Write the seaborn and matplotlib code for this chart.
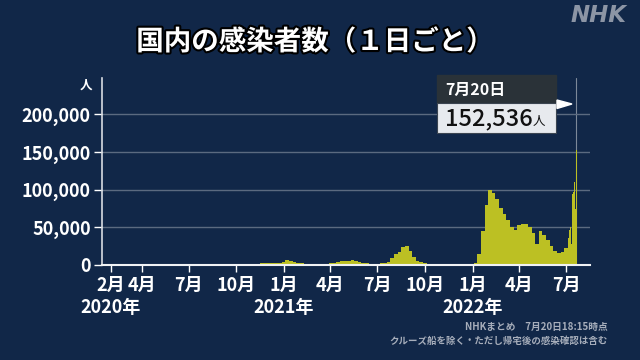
import pandas as pd
import numpy as np
import matplotlib
matplotlib.use("Agg")
import matplotlib.pyplot as plt
import matplotlib.dates as mdates
import matplotlib.patheffects as pe
import seaborn as sns

# weekly values (weeks starting Monday, 2020-01-13 .. 2022-06-27)
weekly_2020 = [1, 2, 5,
               3, 10, 20, 25,
               35, 50, 40, 100, 250,
               500, 600, 400, 250,
               120, 60, 30, 30,
               40, 45, 50, 80, 150,
               300, 500, 800, 1200,
               1450, 1200, 1000, 800, 550,
               550, 550, 450, 500,
               500, 550, 550, 650,
               900, 1400, 2100, 2100, 2300,
               2500, 2800, 3000, 3700]
weekly_2021 = [6800, 5500, 4500, 3000,
               2000, 1500, 1200, 1000,
               1000, 1200, 1400, 1700, 2200,
               3000, 4000, 4800, 5000,
               5800, 6500, 5000, 3800, 2700,
               2000, 1500, 1500, 1700,
               2200, 3000, 4500, 9000,
               14000, 17500, 24500, 25000, 19000,
               10500, 5500, 3500, 2000,
               1200, 700, 400, 300,
               250, 200, 150, 120, 120,
               150, 170, 250, 450]
weekly_2022 = [3000, 15000, 45000, 80000, 100000,
               95000, 88000, 76000, 68000,
               60000, 50000, 46000, 53000,
               55000, 54000, 50000, 42000,
               28000, 45000, 40000, 33000, 25000,
               19000, 16000, 17000, 23000]
# daily values, 2022-07-04 .. 2022-07-20
daily_july = [16000, 36000, 45000, 47000, 51000, 51000, 49000, 28000,
              76000, 94000, 97000, 110000, 110000, 105000, 74000, 77000, 152536]

weekly = weekly_2020 + weekly_2021 + weekly_2022
week_starts = pd.date_range("2020-01-13", periods=len(weekly), freq="7D")
day_starts = pd.date_range("2022-07-04", periods=len(daily_july), freq="D")
starts = list(week_starts) + list(day_starts)
values = weekly + daily_july
edges = starts + [day_starts[-1] + pd.Timedelta(days=1)]

month_ticks = ["2020-02-01", "2020-04-01", "2020-07-01", "2020-10-01",
               "2021-01-01", "2021-04-01", "2021-07-01", "2021-10-01",
               "2022-01-01", "2022-04-01", "2022-07-01"]
month_labels = ["2月", "4月", "7月", "10月", "1月", "4月", "7月", "10月", "1月", "4月", "7月"]
year_pos = ["2020-02-01", "2021-01-01", "2022-01-01"]
year_labels = ["2020年", "2021年", "2022年"]
y_ticks = [0, 50000, 100000, 150000, 200000]

bg = "#112748"
sns.set_theme(style="dark", rc={"figure.facecolor": bg, "axes.facecolor": bg})
plt.rcParams["font.family"] = ["Noto Sans CJK JP", "DejaVu Sans"]

fig = plt.figure(figsize=(6.4, 3.6), dpi=100)
ax = fig.add_axes([0.159, 0.264, 0.763, 0.519])

df = pd.DataFrame({"x": mdates.date2num(starts) + 0.5, "cases": values})
bin_edges = [float(e) for e in mdates.date2num(edges)]
sns.histplot(data=df, x="x", weights="cases", bins=bin_edges, element="step", fill=True,
             color="#bcc023", alpha=1, linewidth=0, ax=ax)

ax.set_xlim(mdates.date2num(pd.Timestamp("2020-01-15")), mdates.date2num(pd.Timestamp("2022-08-16")))
ax.set_ylim(0, 248000)
ax.set_yticks(y_ticks)
ax.set_yticklabels([f"{v:,}" for v in y_ticks])
ax.set_xticks(mdates.date2num(pd.to_datetime(month_ticks)))
ax.set_xticklabels(month_labels)
ax.set_xlabel("")
ax.set_ylabel("")

ax.grid(axis="y", color="#5b6a80", linewidth=1)
ax.grid(axis="x", visible=False)
ax.set_axisbelow(True)
for s in ["top", "right"]:
    ax.spines[s].set_visible(False)
ax.spines["left"].set_color("#d8dce2")
ax.spines["bottom"].set_color("#f0f2f5")
ax.spines["left"].set_linewidth(1.2)
ax.spines["bottom"].set_linewidth(1.5)
ax.tick_params(axis="y", colors="white", labelsize=13, length=6, width=1, pad=2, left=True)
ax.tick_params(axis="x", colors="white", labelsize=13, length=5, width=1, pad=3, bottom=True)
for lab in ax.get_xticklabels() + ax.get_yticklabels():
    lab.set_fontweight("bold")

for p, t in zip(year_pos, year_labels):
    ax.text(mdates.date2num(pd.Timestamp(p)), -0.23, t, transform=ax.get_xaxis_transform(),
            ha="center", va="center", color="white", fontsize=13, fontweight="bold")

ax.text(-0.02, 0.96, "人", transform=ax.transAxes, ha="right", va="center",
        color="white", fontsize=9, fontweight="bold")

# callout for the latest day
last_x = mdates.date2num(day_starts[-1]) + 0.5
ax.axvline(last_x, ymax=1, color="#7d8899", linewidth=0.8, zorder=0)
fig.patches.append(plt.Rectangle((437 / 640, 1 - 103 / 360), 119 / 640, 28 / 360,
                                 transform=fig.transFigure, color="#2a3238"))
fig.patches.append(plt.Rectangle((437 / 640, 1 - 133 / 360), 119 / 640, 30 / 360,
                                 transform=fig.transFigure, facecolor="#e7eaee",
                                 edgecolor="#3a4450", linewidth=0.8))
fig.text(445 / 640, 1 - 90 / 360, "7月20日", color="white", fontsize=11.5,
         fontweight="bold", ha="left", va="center")
fig.text(445 / 640, 1 - 119 / 360, "152,536", color="#111111", fontsize=17,
         fontweight="medium", ha="left", va="center")
fig.text(533 / 640, 1 - 121 / 360, "人", color="#111111", fontsize=9,
         ha="left", va="center")
fig.patches.append(plt.Polygon([(557 / 640, 1 - 100 / 360), (557 / 640, 1 - 108.5 / 360),
                                (572 / 640, 1 - 104 / 360)], closed=True,
                               transform=fig.transFigure, color="white"))

fig.text(315 / 640, 1 - 42 / 360, "国内の感染者数（１日ごと）", color="white", fontsize=19.8,
         fontweight="bold", ha="center", va="center",
         path_effects=[pe.withStroke(linewidth=3, foreground="black")])
fig.text(599 / 640, 1 - 16 / 360, "NHK", color="#8c95a5", fontsize=16.5,
         fontweight="bold", fontstyle="italic", ha="center", va="center",
         family="DejaVu Sans")

fig.text(608 / 640, 1 - 327 / 360, "NHKまとめ　7月20日18:15時点", color="#a7aebb",
         fontsize=7, fontweight="bold", ha="right", va="center")
fig.text(608 / 640, 1 - 341 / 360, "クルーズ船を除く・ただし帰宅後の感染確認は含む", color="#a7aebb",
         fontsize=6.8, fontweight="bold", ha="right", va="center")

fig.savefig("out.png", dpi=100, facecolor=bg)
